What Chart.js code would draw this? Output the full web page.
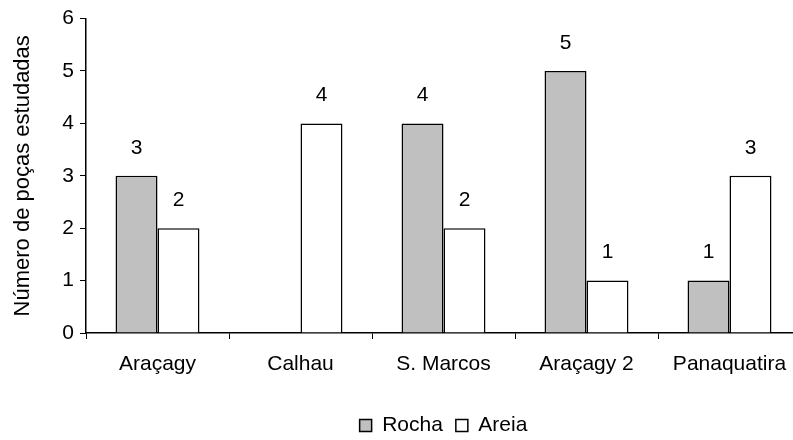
<!DOCTYPE html>
<html>
<head>
<meta charset="utf-8">
<script src="https://cdn.jsdelivr.net/npm/chart.js@4/dist/chart.umd.min.js"></script>
<style>
  html, body { margin: 0; padding: 0; background: #fff; overflow: hidden; }
  #wrap { width: 830px; height: 440px; }
</style>
</head>
<body>
<div id="wrap"><canvas id="myChart" width="830" height="440"></canvas></div>
<script>
// chart data
var categories = ["Araçagy", "Calhau", "S. Marcos", "Araçagy 2", "Panaquatira"];
var rocha = [3, null, 4, 5, 1];
var areia = [2, 4, 2, 1, 3];
var yTicks = [0, 1, 2, 3, 4, 5, 6];

var font = { family: "'Liberation Sans', Arial, sans-serif", size: 21 };
var titleFont = { family: "'Liberation Sans', Arial, sans-serif", size: 22 };

// value labels above each bar
var barLabels = {
    id: 'barLabels',
    afterDatasetsDraw: function(chart) {
        var ctx = chart.ctx;
        ctx.save();
        ctx.fillStyle = '#000';
        ctx.font = font.size + 'px ' + font.family;
        ctx.textAlign = 'center';
        ctx.textBaseline = 'middle';
        chart.data.datasets.forEach(function(ds, i) {
            chart.getDatasetMeta(i).data.forEach(function(bar, j) {
                if (ds.data[j] == null) return;
                ctx.fillText(ds.data[j], bar.x, bar.y - 28);
            });
        });
        ctx.restore();
    }
};

var ctx = document.getElementById('myChart').getContext('2d');
var chart = new Chart(ctx, {
    type: 'bar',
    data: {
        labels: categories,
        datasets: [{
            label: 'Rocha',
            data: rocha,
            backgroundColor: '#c0c0c0',
            borderColor: '#000',
            borderWidth: 1.5
        }, {
            label: 'Areia',
            data: areia,
            backgroundColor: '#fff',
            borderColor: '#000',
            borderWidth: 1.5
        }]
    },
    plugins: [barLabels],
    options: {
        responsive: false,
        animation: false,
        devicePixelRatio: 1,
        layout: { padding: { top: 14, right: 29, left: 4, bottom: -6 } },
        datasets: { bar: { categoryPercentage: 0.587, barPercentage: 1 } },
        plugins: {
            tooltip: { enabled: false },
            legend: {
                position: 'bottom',
                fullSize: false,
                labels: {
                    color: '#000',
                    font: font,
                    boxWidth: 12,
                    boxHeight: 12,
                    padding: 13
                }
            }
        },
        scales: {
            x: {
                border: { color: '#000', width: 1.5 },
                grid: { drawOnChartArea: false, color: '#000', tickLength: 6, offset: true },
                ticks: { color: '#000', font: font, padding: 13, maxRotation: 0 },
                afterFit: function(scale) { scale.height = 69; }
            },
            y: {
                min: 0,
                max: 6,
                afterBuildTicks: function(scale) {
                    scale.ticks = yTicks.map(function(v) { return { value: v }; });
                },
                border: { color: '#000', width: 1.5 },
                grid: { drawOnChartArea: false, color: '#000', tickLength: 6 },
                ticks: { color: '#000', font: font, padding: 6 },
                title: { display: true, text: 'Número de poças estudadas', color: '#000', font: titleFont, padding: 6 },
                afterFit: function(scale) { scale.width = 82; }
            }
        }
    }
});
</script>
</body>
</html>
